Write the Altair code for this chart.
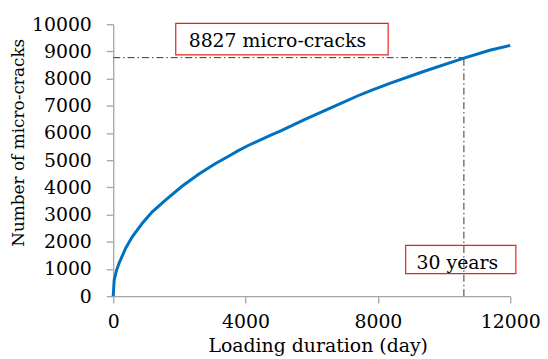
import altair as alt
import pandas as pd

# ---- data ----
days = [0, 30, 100, 180, 380, 580, 880, 1180, 1580, 2080, 2580, 3080, 3580, 3780,
        4080, 4780, 5080, 5780, 6780, 7380, 7780, 8380, 9380, 10600, 11380, 12000]
cracks = [0, 600, 950, 1220, 1770, 2190, 2680, 3100, 3530, 4040, 4480, 4870, 5210, 5350,
          5540, 5930, 6090, 6490, 7030, 7360, 7560, 7830, 8260, 8750, 9040, 9220]
x_ticks = [0, 4000, 8000, 12000]
y_ticks = [0, 1000, 2000, 3000, 4000, 5000, 6000, 7000, 8000, 9000, 10000]

ref_day = 10600
ref_cracks = 8770
ann_text = ["8827 micro-cracks", "30 years"]
ann_day = [2280, 9170]
ann_cracks = [9160, 1010]
box_day = [1890, 8840]
box_day2 = [8310, 12170]
box_cracks = [8872, 826]
box_cracks2 = [10030, 1870]

FONT = "DejaVu Serif"

df = pd.DataFrame({"day": days, "cracks": cracks})
ann = pd.DataFrame({"day": ann_day, "cracks": ann_cracks, "text": ann_text})
boxes = pd.DataFrame({"day": box_day, "day2": box_day2, "cracks": box_cracks, "cracks2": box_cracks2})
hline = pd.DataFrame({"day": [0], "day2": [ref_day], "cracks": [ref_cracks]})
vline = pd.DataFrame({"day": [ref_day], "cracks": [0], "cracks2": [ref_cracks]})

x_scale = alt.Scale(domain=[0, 12000], nice=False)
y_scale = alt.Scale(domain=[0, 10000], nice=False)

x_axis = alt.Axis(values=x_ticks, title="Loading duration (day)", format="d",
                  labelPadding=10, labelFlush=False, labelOverlap=False,
                  titleX=206, titleY=56, titleBaseline="alphabetic", titleAlign="center")
y_axis = alt.Axis(values=y_ticks, title="Number of micro-cracks", format="d",
                  labelPadding=15, labelFlush=False, labelOverlap=False,
                  titleX=-95, titleY=119, titleAngle=270, titleBaseline="middle",
                  titleAlign="center", titleFontSize=17)

X = alt.X("day:Q", scale=x_scale, axis=x_axis)
Y = alt.Y("cracks:Q", scale=y_scale, axis=y_axis)

dash = [7, 3, 1.5, 3]

h_rule = alt.Chart(hline).mark_rule(color="#333333", strokeWidth=1, strokeDash=dash).encode(
    x=X, x2="day2:Q", y=Y)
v_rule = alt.Chart(vline).mark_rule(color="#333333", strokeWidth=1, strokeDash=dash).encode(
    x=X, y=Y, y2="cracks2:Q")

curve = alt.Chart(df).mark_line(color="#0070C0", strokeWidth=3).encode(x=X, y=Y)

rects = alt.Chart(boxes).mark_rect(fill="transparent", stroke="#E8211F", strokeWidth=1.2).encode(
    x=X, x2="day2:Q", y=Y, y2="cracks2:Q")

texts = alt.Chart(ann).mark_text(font=FONT, fontSize=19, align="left", baseline="alphabetic",
                                 color="black").encode(x=X, y=Y, text="text:N")

chart = alt.layer(h_rule, v_rule, curve, rects, texts).properties(
    width=400, height=274,
    autosize="none",
    padding={"left": 106, "top": 15, "right": 30, "bottom": 62},
).configure_view(strokeWidth=0).configure_axis(
    grid=False, domainColor="#A6A6A6", tickColor="#A6A6A6", domainWidth=1.3, tickWidth=1.3,
    tickSize=7, labelFont=FONT, labelFontSize=19, labelColor="black",
    titleFont=FONT, titleFontSize=19, titleFontWeight="normal", titleColor="black",
)

chart.save("out.html", embed_options={"renderer": "svg", "actions": False})
